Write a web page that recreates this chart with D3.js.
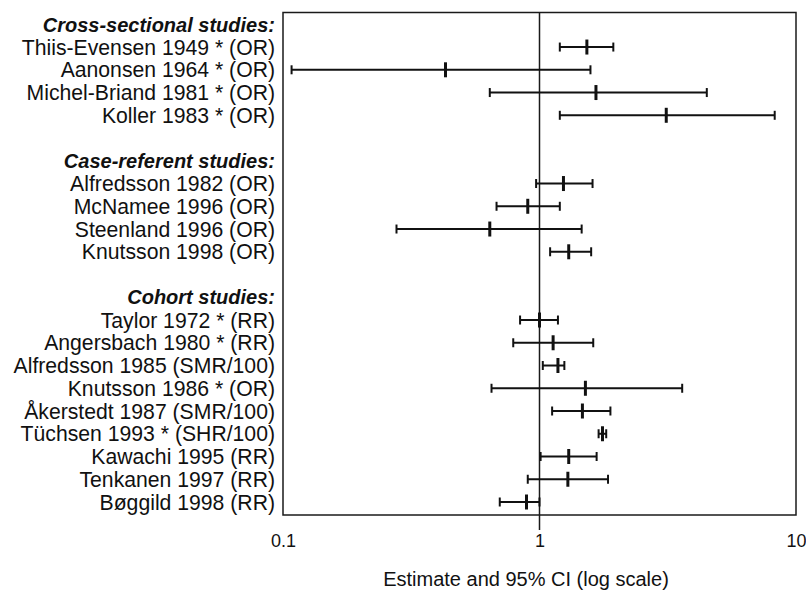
<!DOCTYPE html>
<html>
<head>
<meta charset="utf-8">
<script src="https://cdn.jsdelivr.net/npm/d3@7"></script>
<style>
	body { margin: 0; background: #fff; }
	svg { display: block; font-family: "Liberation Sans", Arial, Helvetica, sans-serif; }
</style>
</head>
<body>
<script>
// group headings, in order
var groupNames = ["Cross-sectional studies:", "Case-referent studies:", "Cohort studies:"];

// one entry per study
var studies = [
	"Thiis-Evensen 1949 * (OR)", "Aanonsen 1964 * (OR)", "Michel-Briand 1981 * (OR)", "Koller 1983 * (OR)",
	"Alfredsson 1982 (OR)", "McNamee 1996 (OR)", "Steenland 1996 (OR)", "Knutsson 1998 (OR)",
	"Taylor 1972 * (RR)", "Angersbach 1980 * (RR)", "Alfredsson 1985 (SMR/100)", "Knutsson 1986 * (OR)",
	"Åkerstedt 1987 (SMR/100)", "Tüchsen 1993 * (SHR/100)", "Kawachi 1995 (RR)", "Tenkanen 1997 (RR)", "Bøggild 1998 (RR)"
];
var studyGroup = [0,0,0,0, 1,1,1,1, 2,2,2,2,2,2,2,2,2];
var estimate = [1.53, 0.43, 1.66, 3.12, 1.24, 0.90, 0.64, 1.30, 1.00, 1.13, 1.18, 1.51, 1.47, 1.76, 1.30, 1.29, 0.89];
var lower    = [1.20, 0.108, 0.64, 1.20, 0.97, 0.68, 0.277, 1.10, 0.84, 0.79, 1.03, 0.65, 1.12, 1.70, 1.01, 0.90, 0.70];
var upper    = [1.94, 1.58, 4.49, 8.26, 1.61, 1.20, 1.46, 1.59, 1.18, 1.62, 1.25, 3.60, 1.89, 1.82, 1.67, 1.85, 1.00];

// x axis
var tickValues = [0.1, 1, 10];
var tickLabels = ["0.1", "1", "10"];
var xTitle = "Estimate and 95% CI (log scale)";

const width = 806;
const height = 590;
const plotLeft = 283, plotRight = 796, plotTop = 12.5, plotBottom = 515;

// build the list of rows: heading, studies, blank spacer between groups
let rows = [];
for (let g = 0; g < groupNames.length; g++){
	if (g > 0) rows.push({type: "blank", key: "blank" + g});
	rows.push({type: "head", key: "head" + g, label: groupNames[g]});
	for (let i = 0; i < studies.length; i++){
		if (studyGroup[i] == g){
			rows.push({type: "study", key: "s" + i, label: studies[i], est: estimate[i], lo: lower[i], hi: upper[i]});
		}
	}
}

const xScale = d3.scaleLog()
				 .domain([0.1, 10])
				 .range([plotLeft, plotRight]);

const yScale = d3.scalePoint()
				 .domain(rows.map(function(d) { return d.key; }))
				 .range([24.3, 502]);

const svg = d3.select('body')
			  .append('svg')
				.attr('width', width)
				.attr('height', height);

// plot frame
svg.append('rect')
	.attr('x', plotLeft)
	.attr('y', plotTop)
	.attr('width', plotRight - plotLeft)
	.attr('height', plotBottom - plotTop)
	.attr('fill', 'none')
	.attr('stroke', '#1a1a1a')
	.attr('stroke-width', 1.5);

// reference line at 1, running a little below the frame
svg.append('line')
	.attr('x1', xScale(1)).attr('x2', xScale(1))
	.attr('y1', plotTop).attr('y2', 530)
	.attr('stroke', '#1a1a1a')
	.attr('stroke-width', 1.5);

// x axis labels
const axis = svg.append('g')
	.attr('transform', `translate(0, ${plotBottom})`)
	.call(d3.axisBottom(xScale)
			.tickValues(tickValues)
			.tickSize(0)
			.tickPadding(19)
			.tickFormat(function(d, i) { return tickLabels[i]; }));
axis.select('.domain').remove();
axis.selectAll('text')
	.attr('font-family', '"Liberation Sans", Arial, sans-serif')
	.attr('font-size', 18)
	.attr('fill', '#111');

svg.append('text')
	.attr('x', 526)
	.attr('y', 586)
	.attr('text-anchor', 'middle')
	.attr('font-size', 20)
	.attr('fill', '#111')
	.text(xTitle);

// row labels
svg.selectAll('.rowLabel')
	.data(rows.filter(function(d) { return d.type != "blank"; }))
	.enter()
		.append('text')
			.attr('class', 'rowLabel')
			.attr('x', 275)
			.attr('y', (d) => yScale(d.key))
			.attr('dy', '0.36em')
			.attr('text-anchor', 'end')
			.attr('font-size', (d) => d.type == "head" ? 20 : 21.2)
			.attr('font-weight', (d) => d.type == "head" ? 'bold' : 'normal')
			.attr('font-style', (d) => d.type == "head" ? 'italic' : 'normal')
			.attr('fill', '#111')
			.text((d) => d.label);

// error bars
const data = rows.filter(function(d) { return d.type == "study"; });
const bars = svg.selectAll('.ci')
	.data(data)
	.enter()
		.append('g')
			.attr('class', 'ci')
			.attr('stroke', '#111');

bars.append('line')
	.attr('x1', (d) => xScale(d.lo))
	.attr('x2', (d) => xScale(d.hi))
	.attr('y1', (d) => yScale(d.key))
	.attr('y2', (d) => yScale(d.key))
	.attr('stroke-width', 2);

// end caps
bars.selectAll('.cap')
	.data(function(d) { return [{v: d.lo, k: d.key}, {v: d.hi, k: d.key}]; })
	.enter()
		.append('line')
			.attr('x1', (d) => xScale(d.v))
			.attr('x2', (d) => xScale(d.v))
			.attr('y1', (d) => yScale(d.k) - 4.5)
			.attr('y2', (d) => yScale(d.k) + 4.5)
			.attr('stroke-width', 2);

// point estimate
bars.append('line')
	.attr('x1', (d) => xScale(d.est))
	.attr('x2', (d) => xScale(d.est))
	.attr('y1', (d) => yScale(d.key) - 7.5)
	.attr('y2', (d) => yScale(d.key) + 7.5)
	.attr('stroke-width', 3);
</script>
</body>
</html>
